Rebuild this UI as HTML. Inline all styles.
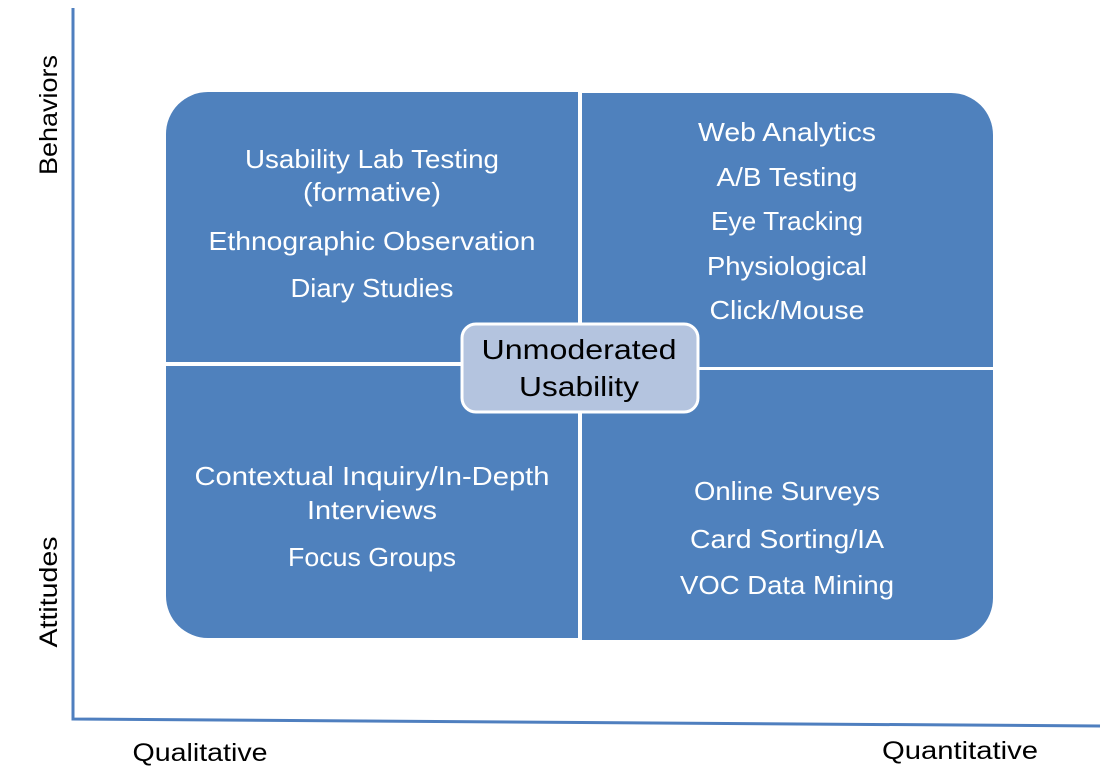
<!DOCTYPE html>
<html><head><meta charset="utf-8"><style>
html,body{margin:0;padding:0;background:#fff;}
svg{display:block;}
text{font-family:"Liberation Sans",sans-serif;}
</style></head><body>
<svg width="1105" height="779" viewBox="0 0 1105 779" xmlns="http://www.w3.org/2000/svg">
<polyline points="73,8 73,719 1100,726" fill="none" stroke="#4F7FBF" stroke-width="3"/>
<g fill="#4F81BD">
<path d="M166,134 A42,42 0 0 1 208,92 L578,92 L578,362 L166,362 Z"/>
<path d="M582,93 L951,93 A42,42 0 0 1 993,135 L993,367 L582,367 Z"/>
<path d="M166,366 L578,366 L578,638 L208,638 A42,42 0 0 1 166,596 Z"/>
<path d="M582,370 L993,370 L993,598 A42,42 0 0 1 951,640 L582,640 Z"/>
</g>
<rect x="462" y="324" width="236" height="88" rx="14" ry="14" fill="#B4C4DF" stroke="#fff" stroke-width="3"/>
<g fill="#fff" font-size="26" text-anchor="middle" lengthAdjust="spacingAndGlyphs">
<text x="372" y="168" textLength="254" lengthAdjust="spacingAndGlyphs">Usability Lab Testing</text>
<text x="372" y="201" textLength="138" lengthAdjust="spacingAndGlyphs">(formative)</text>
<text x="372" y="250" textLength="327" lengthAdjust="spacingAndGlyphs">Ethnographic Observation</text>
<text x="372" y="297" textLength="163" lengthAdjust="spacingAndGlyphs">Diary Studies</text>
<text x="787" y="141" textLength="178" lengthAdjust="spacingAndGlyphs">Web Analytics</text>
<text x="787" y="186" textLength="141" lengthAdjust="spacingAndGlyphs">A/B Testing</text>
<text x="787" y="230" textLength="152" lengthAdjust="spacingAndGlyphs">Eye Tracking</text>
<text x="787" y="275" textLength="160" lengthAdjust="spacingAndGlyphs">Physiological</text>
<text x="787" y="319" textLength="155" lengthAdjust="spacingAndGlyphs">Click/Mouse</text>
<text x="372" y="485" textLength="355" lengthAdjust="spacingAndGlyphs">Contextual Inquiry/In-Depth</text>
<text x="372" y="519" textLength="130" lengthAdjust="spacingAndGlyphs">Interviews</text>
<text x="372" y="566" textLength="168" lengthAdjust="spacingAndGlyphs">Focus Groups</text>
<text x="787" y="500" textLength="186" lengthAdjust="spacingAndGlyphs">Online Surveys</text>
<text x="787" y="548" textLength="194" lengthAdjust="spacingAndGlyphs">Card Sorting/IA</text>
<text x="787" y="594" textLength="214" lengthAdjust="spacingAndGlyphs">VOC Data Mining</text>
</g>
<g fill="#000" font-size="28" text-anchor="middle">
<text x="579" y="359" textLength="195" lengthAdjust="spacingAndGlyphs">Unmoderated</text>
<text x="579" y="396" textLength="120" lengthAdjust="spacingAndGlyphs">Usability</text>
</g>
<g fill="#000" font-size="25" text-anchor="middle">
<text x="200" y="761" textLength="135" lengthAdjust="spacingAndGlyphs">Qualitative</text>
<text x="960" y="759" textLength="156" lengthAdjust="spacingAndGlyphs">Quantitative</text>
<text transform="translate(57,115) rotate(-90)" textLength="120" lengthAdjust="spacingAndGlyphs">Behaviors</text>
<text transform="translate(57,592) rotate(-90)" textLength="111" lengthAdjust="spacingAndGlyphs">Attitudes</text>
</g>
</svg>
</body></html>
